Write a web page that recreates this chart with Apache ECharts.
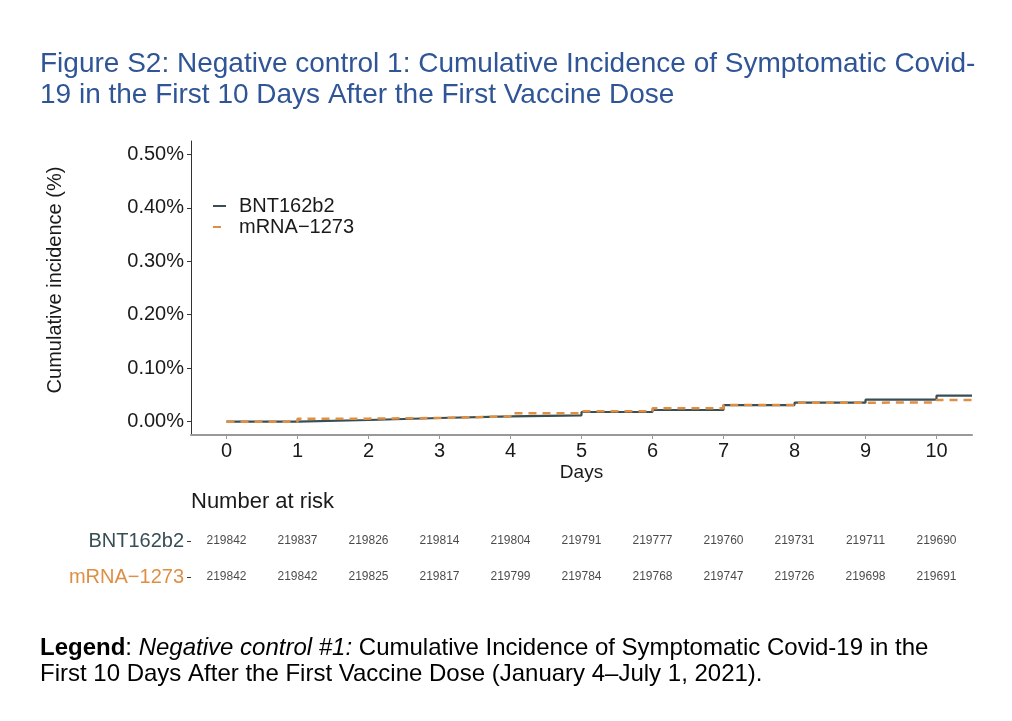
<!DOCTYPE html>
<html>
<head>
<meta charset="utf-8">
<script src="https://cdn.jsdelivr.net/npm/echarts@6/dist/echarts.min.js"></script>
<style>html,body{margin:0;padding:0;background:#fff}#c{width:1012px;height:721px}</style>
</head>
<body>
<div id="c"></div>
<script>
// ---- data ----
const days = [0, 1, 2, 3, 4, 5, 6, 7, 8, 9, 10];
const seriesNames = ['BNT162b2', 'mRNA\u22121273'];
// cumulative incidence, in percent, holding from each day to the next
const bntIncidence  = [0, 0.0031, 0.0068, 0.0099, 0.0118, 0.0180, 0.0218, 0.0310, 0.0354, 0.0410, 0.0485];
const mrnaIncidence = [0, 0.0056, 0.0068, 0.0099, 0.0155, 0.0193, 0.0249, 0.0310, 0.0354, 0.0360, 0.0404];
const bntAtRisk  = [219842, 219837, 219826, 219814, 219804, 219791, 219777, 219760, 219731, 219711, 219690];
const mrnaAtRisk = [219842, 219842, 219825, 219817, 219799, 219784, 219768, 219747, 219726, 219698, 219691];
const yTicks = [0, 0.1, 0.2, 0.3, 0.4, 0.5];
const xTicks = [0, 1, 2, 3, 4, 5, 6, 7, 8, 9, 10];
const xMin = -0.5, xMax = 10.5;
const yMin = -0.025, yMax = 0.525;

const FONT = 'Liberation Sans, Arial, sans-serif';
const DARK = '#374E55', ORANGE = '#DF8F44', TXT = '#1a1a1a';

function stepData(vals) {
  const d = days.map((t, i) => [t, vals[i]]);
  d.push([xMax, vals[vals.length - 1]]);
  return d;
}

const riskData = [];
days.forEach((t, i) => {
  riskData.push([t, seriesNames[0], bntAtRisk[i]]);
  riskData.push([t, seriesNames[1], mrnaAtRisk[i]]);
});

const chart = echarts.init(document.getElementById('c'), null, {renderer: 'canvas'});
chart.setOption({
  animation: false,
  backgroundColor: '#fff',
  textStyle: {fontFamily: FONT},
  title: [
    {
      text: 'Figure S2: Negative control 1: Cumulative Incidence of Symptomatic Covid-\n19 in the First 10 Days After the First Vaccine Dose',
      left: 40, top: 49, padding: 0,
      textStyle: {fontFamily: FONT, fontSize: 28, lineHeight: 31, fontWeight: 'normal', color: '#2F5597'}
    },
    {
      text: 'Number at risk',
      left: 191, top: 491, padding: 0,
      textStyle: {fontFamily: FONT, fontSize: 22, fontWeight: 'normal', color: TXT}
    },
    {
      text: '{b|Legend}: {i|Negative control #1:} Cumulative Incidence of Symptomatic Covid-19 in the\nFirst 10 Days After the First Vaccine Dose (January 4\u2013July 1, 2021).',
      left: 40, top: 635, padding: 0,
      textStyle: {
        fontFamily: FONT, fontSize: 24, lineHeight: 26, fontWeight: 'normal', color: '#000',
        rich: {
          b: {fontFamily: FONT, fontSize: 24, lineHeight: 26, fontWeight: 'bold', color: '#000'},
          i: {fontFamily: FONT, fontSize: 24, lineHeight: 26, fontStyle: 'italic', color: '#000'}
        }
      }
    }
  ],
  legend: {
    orient: 'vertical',
    left: 208, top: 191,
    itemGap: 1,
    itemWidth: 21, itemHeight: 2,
    textStyle: {fontFamily: FONT, fontSize: 20, color: TXT, lineHeight: 19},
    data: [
      {name: seriesNames[0], icon: 'path://M0,0H13V2H0ZM21,0H21.01V2H21Z'},
      {name: seriesNames[1], icon: 'path://M0,0H8V2H0ZM21,0H21.01V2H21Z'}
    ]
  },
  grid: [
    {left: 191, top: 141, width: 781, height: 294, containLabel: false},
    {left: 191, top: 523, width: 781, height: 72, containLabel: false}
  ],
  xAxis: [
    {
      gridIndex: 0, type: 'value', min: xMin, max: xMax,
      name: 'Days', nameLocation: 'middle', nameGap: 28,
      nameTextStyle: {fontFamily: FONT, fontSize: 19, color: TXT},
      axisLine: {show: true, onZero: false, lineStyle: {color: '#999', width: 2}},
      axisTick: {show: true, length: 4, lineStyle: {color: '#999', width: 1}, customValues: xTicks},
      axisLabel: {fontFamily: FONT, fontSize: 20, color: TXT, margin: 6, customValues: xTicks},
      splitLine: {show: false}
    },
    {
      gridIndex: 1, type: 'value', min: xMin, max: xMax, show: false
    }
  ],
  yAxis: [
    {
      gridIndex: 0, type: 'value', min: yMin, max: yMax,
      name: 'Cumulative incidence (%)', nameLocation: 'middle', nameGap: 126, nameRotate: 90,
      nameTextStyle: {fontFamily: FONT, fontSize: 20, color: TXT, padding: [0, 0, 0, 16]},
      axisLine: {show: true, onZero: false, lineStyle: {color: '#333', width: 1}},
      axisTick: {show: true, length: 4, lineStyle: {color: '#333', width: 1}, customValues: yTicks},
      axisLabel: {fontFamily: FONT, fontSize: 20, color: TXT, margin: 7, customValues: yTicks,
        formatter: v => v.toFixed(2) + '%'},
      splitLine: {show: false}
    },
    {
      gridIndex: 1, type: 'category', data: [seriesNames[1], seriesNames[0]],
      axisLine: {show: false, onZero: false},
      axisTick: {show: true, length: 4, alignWithLabel: true, lineStyle: {color: '#333', width: 1}},
      axisLabel: {
        margin: 7,
        formatter: v => v === seriesNames[0] ? '{a|' + v + '}' : '{b|' + v + '}',
        rich: {
          a: {fontFamily: FONT, fontSize: 20, color: DARK},
          b: {fontFamily: FONT, fontSize: 20, color: ORANGE}
        }
      },
      splitLine: {show: false}
    }
  ],
  series: [
    {
      name: seriesNames[0], type: 'line', xAxisIndex: 0, yAxisIndex: 0,
      step: 'end', showSymbol: false, symbol: 'none',
      itemStyle: {color: DARK},
      lineStyle: {color: DARK, width: 2.2},
      data: stepData(bntIncidence), z: 2
    },
    {
      name: seriesNames[1], type: 'line', xAxisIndex: 0, yAxisIndex: 0,
      step: 'end', showSymbol: false, symbol: 'none',
      itemStyle: {color: ORANGE},
      lineStyle: {color: ORANGE, width: 2.5, type: [8, 6]},
      data: stepData(mrnaIncidence), z: 3
    },
    {
      type: 'scatter', xAxisIndex: 1, yAxisIndex: 1,
      symbolSize: 0, silent: true,
      label: {show: true, position: 'inside', formatter: p => String(p.value[2]),
        fontFamily: FONT, fontSize: 12, color: '#1a1a1a'},
      data: riskData
    }
  ]
});
</script>
</body>
</html>
